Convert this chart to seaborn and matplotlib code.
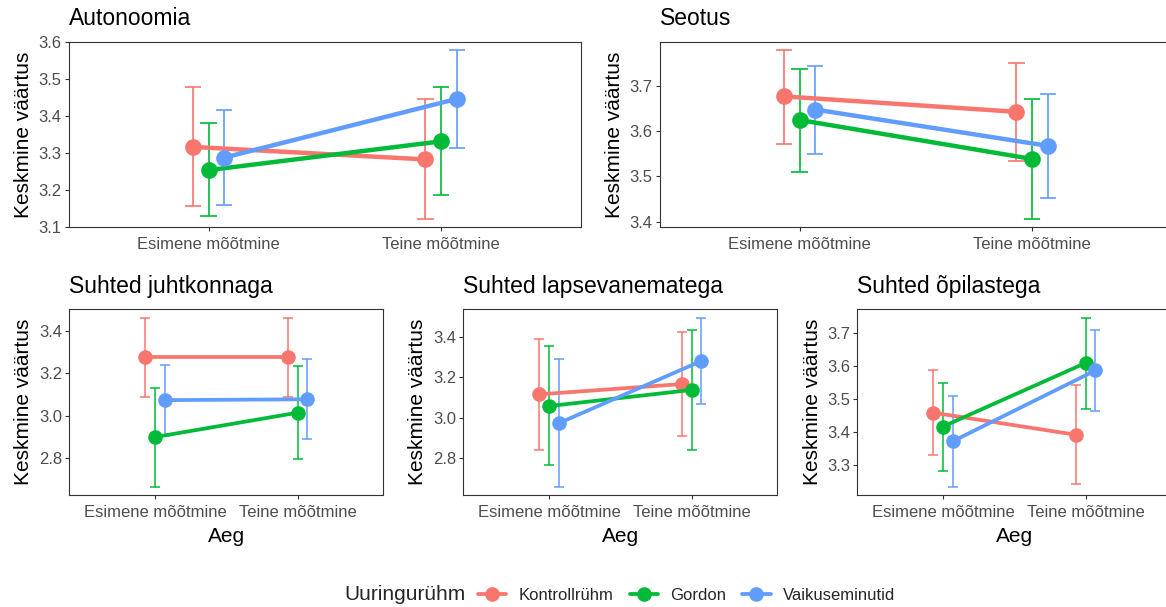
import numpy as np
import pandas as pd
import matplotlib
matplotlib.use("Agg")
import matplotlib.pyplot as plt
from matplotlib.lines import Line2D
from matplotlib.ticker import MultipleLocator, FormatStrFormatter
import seaborn as sns

# ---- data -------------------------------------------------------------
groups = ["Kontrollrühm", "Gordon", "Vaikuseminutid"]
times = ["Esimene mõõtmine", "Teine mõõtmine"]
colors = ["#F8766D", "#00BA38", "#619CFF"]

# each list: [Kontrollrühm, Gordon, Vaikuseminutid] x [Esimene, Teine]
autonoomia_mean = [[3.316, 3.282], [3.253, 3.331], [3.287, 3.446]]
autonoomia_lo = [[3.156, 3.121], [3.128, 3.185], [3.158, 3.312]]
autonoomia_hi = [[3.478, 3.446], [3.381, 3.478], [3.416, 3.578]]

seotus_mean = [[3.676, 3.642], [3.624, 3.538], [3.647, 3.567]]
seotus_lo = [[3.571, 3.533], [3.509, 3.406], [3.549, 3.453]]
seotus_hi = [[3.778, 3.750], [3.736, 3.670], [3.744, 3.681]]

juhtkond_mean = [[3.276, 3.276], [2.900, 3.015], [3.074, 3.078]]
juhtkond_lo = [[3.089, 3.089], [2.667, 2.799], [2.903, 2.889]]
juhtkond_hi = [[3.462, 3.462], [3.131, 3.234], [3.241, 3.269]]

vanemad_mean = [[3.116, 3.167], [3.058, 3.138], [2.973, 3.281]]
vanemad_lo = [[2.843, 2.908], [2.768, 2.841], [2.660, 3.066]]
vanemad_hi = [[3.389, 3.423], [3.356, 3.434], [3.289, 3.495]]

opilased_mean = [[3.459, 3.392], [3.417, 3.610], [3.372, 3.587]]
opilased_lo = [[3.330, 3.244], [3.282, 3.471], [3.235, 3.464]]
opilased_hi = [[3.587, 3.542], [3.550, 3.747], [3.510, 3.709]]

titles = ["Autonoomia", "Seotus", "Suhted juhtkonnaga",
          "Suhted lapsevanematega", "Suhted õpilastega"]
y_steps = [0.1, 0.1, 0.2, 0.2, 0.1]

panels = [
    (autonoomia_mean, autonoomia_lo, autonoomia_hi),
    (seotus_mean, seotus_lo, seotus_hi),
    (juhtkond_mean, juhtkond_lo, juhtkond_hi),
    (vanemad_mean, vanemad_lo, vanemad_hi),
    (opilased_mean, opilased_lo, opilased_hi),
]

# ---- style ------------------------------------------------------------
sns.set_style("white")
plt.rcParams["font.family"] = ["Liberation Sans", "DejaVu Sans"]

W, H = 1166, 607
fig = plt.figure(figsize=(W / 100, H / 100), dpi=100)


def px_axes(left, top, right, bottom):
    return fig.add_axes([left / W, 1 - bottom / H, (right - left) / W, (bottom - top) / H])


axes = [
    px_axes(69, 41.7, 580.7, 227.3),
    px_axes(660, 41.7, 1171.7, 227.3),
    px_axes(69.3, 309.3, 383.3, 495),
    px_axes(463.3, 309.3, 777.3, 495),
    px_axes(857.3, 309.3, 1171.3, 495),
]

dodge = 0.135
offsets = np.linspace(-dodge / 2, dodge / 2, len(groups))
cap_half = 0.035
edge = "#333333"

for i, (ax, title, step, (mean, lo, hi)) in enumerate(zip(axes, titles, y_steps, panels)):
    top_row = i < 2
    msize = 12 if top_row else 10.5
    lw = 3.2 if top_row else 2.7
    elw = 1.2 if top_row else 1.1

    df = pd.DataFrame({
        "Aeg": [t for _ in groups for t in times],
        "Uuringurühm": [g for g in groups for _ in times],
        "väärtus": np.ravel(mean),
    })

    # confidence intervals with caps
    for gi, color in enumerate(colors):
        xs = np.arange(len(times)) + offsets[gi]
        ax.vlines(xs, lo[gi], hi[gi], color=color, linewidth=elw, zorder=1)
        ax.hlines(lo[gi], xs - cap_half, xs + cap_half, color=color, linewidth=elw, zorder=1)
        ax.hlines(hi[gi], xs - cap_half, xs + cap_half, color=color, linewidth=elw, zorder=1)

    sns.pointplot(data=df, x="Aeg", y="väärtus", hue="Uuringurühm",
                  order=times, hue_order=groups, palette=colors,
                  dodge=dodge, errorbar=None, markers="o", linestyles="-",
                  markersize=msize, linewidth=lw, markeredgewidth=0,
                  legend=False, ax=ax)

    allv = np.concatenate([np.ravel(lo), np.ravel(hi)])
    rng = allv.max() - allv.min()
    ax.set_ylim(allv.min() - 0.05 * rng, allv.max() + 0.05 * rng)
    ax.set_xlim(-0.6, 1.6)
    ax.yaxis.set_major_locator(MultipleLocator(step))
    ax.yaxis.set_major_formatter(FormatStrFormatter("%.1f"))

    for s in ax.spines.values():
        s.set_visible(True)
        s.set_color(edge)
        s.set_linewidth(0.8)
    ax.tick_params(axis="both", which="major", length=2.7, width=0.8, color=edge,
                   labelsize=12, labelcolor="#4D4D4D", pad=2.5, left=True, bottom=True)
    ax.tick_params(axis="x", pad=4.5)

    ax.set_title(title, loc="left", fontsize=16.5, pad=12, color="black")
    ax.set_ylabel("Keskmine väärtus", fontsize=15, color="black")
    if top_row:
        ax.set_xlabel("")
    else:
        ax.set_xlabel("Aeg", fontsize=15, color="black", labelpad=5)

# ---- shared legend at the bottom ---------------------------------------
fig.text(344 / W, 1 - 595 / H, "Uuringurühm", fontsize=15, ha="left", va="center")
handles = [Line2D([], [], color=c, marker="o", markersize=10.5, linewidth=2.7,
                  markeredgewidth=0) for c in colors]
fig.legend(handles, groups, ncol=3, loc="center left",
           bbox_to_anchor=(478 / W, 1 - 595 / H), frameon=False, fontsize=12,
           handlelength=1.7, handletextpad=0.75, columnspacing=0.95,
           borderpad=0, borderaxespad=0)

fig.savefig("out.png", dpi=100, facecolor="white")
